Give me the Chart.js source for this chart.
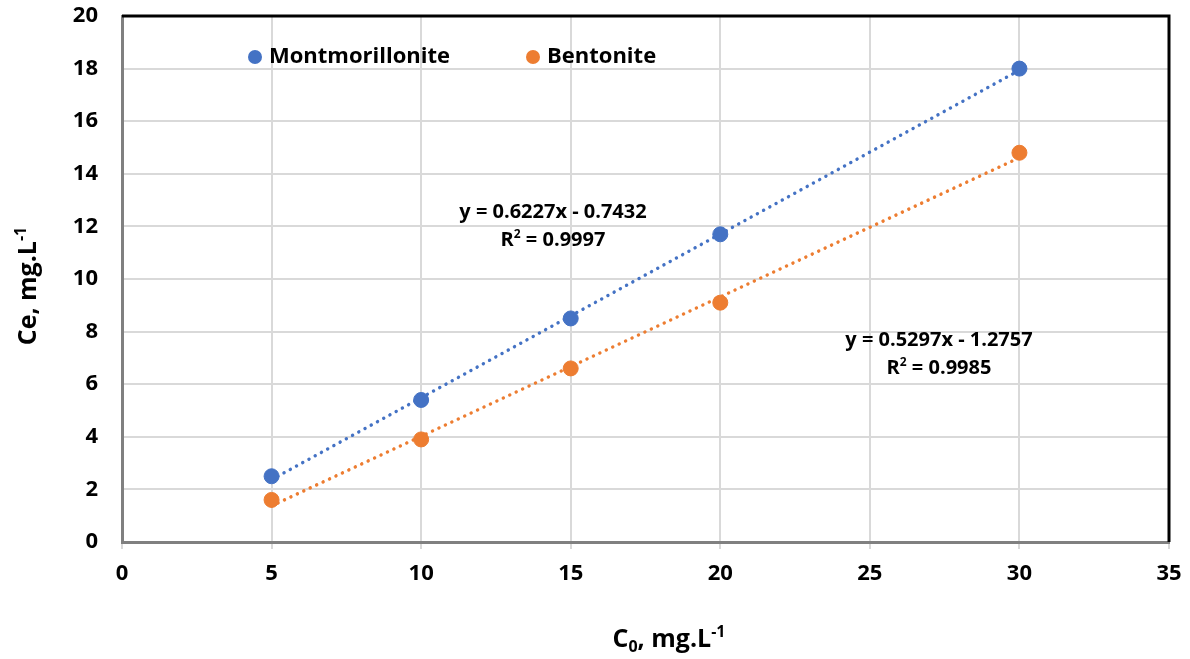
<!DOCTYPE html>
<html>
<head>
<meta charset="utf-8">
<script src="https://cdn.jsdelivr.net/npm/chart.js@4.4.0/dist/chart.umd.min.js"></script>
<style>
html,body{margin:0;padding:0;background:#fff;}
#wrap{width:1190px;height:659px;}
</style>
</head>
<body>
<div id="wrap"><canvas id="c" width="1190" height="659"></canvas></div>
<script>
const c0Values = [5, 10, 15, 20, 30];
const montmorilloniteCe = [2.5, 5.4, 8.5, 11.7, 18.0];
const bentoniteCe = [1.6, 3.9, 6.6, 9.1, 14.8];
const seriesNames = ['Montmorillonite', 'Bentonite'];
const trendSlopes = [0.6227, 0.5297];
const trendIntercepts = [-0.7432, -1.2757];
const trendR2 = [0.9997, 0.9985];
const xTicks = [0, 5, 10, 15, 20, 25, 30, 35];
const yTicks = [0, 2, 4, 6, 8, 10, 12, 14, 16, 18, 20];

const BLUE = '#4472C4', ORANGE = '#ED7D31';
const FONT = '"Open Sans", "Noto Sans", sans-serif';

function pts(ys){ return c0Values.map((x,i)=>({x:x,y:ys[i]})); }
function trend(k){
  const x0 = c0Values[0], x1 = c0Values[c0Values.length-1];
  return [{x:x0,y:trendSlopes[k]*x0+trendIntercepts[k]},{x:x1,y:trendSlopes[k]*x1+trendIntercepts[k]}];
}

function drawRich(ctx, parts, cx, cy, size, align){
  ctx.save();
  let w = 0;
  const fs = m => m==='n' ? size : Math.round(size*0.62);
  parts.forEach(p=>{ ctx.font = 'bold '+fs(p[1])+'px '+FONT; w += ctx.measureText(p[0]).width; });
  let x = align==='left' ? cx : cx - w/2;
  ctx.textBaseline = 'alphabetic';
  ctx.textAlign = 'left';
  ctx.fillStyle = '#000';
  const base = cy + size*0.36;
  parts.forEach(p=>{
    ctx.font = 'bold '+fs(p[1])+'px '+FONT;
    let y = base;
    if(p[1]==='sub') y = base + size*0.2;
    if(p[1]==='sup') y = base - size*0.4;
    ctx.fillText(p[0], x, y);
    x += ctx.measureText(p[0]).width;
  });
  ctx.restore();
}

const overlay = {
  id:'overlay',
  afterDraw(chart){
    const ctx = chart.ctx, a = chart.chartArea;
    ctx.save();
    ctx.strokeStyle = '#000'; ctx.lineWidth = 3;
    ctx.beginPath();
    ctx.moveTo(a.left, a.top); ctx.lineTo(a.right, a.top); ctx.lineTo(a.right, a.bottom);
    ctx.stroke();
    ctx.restore();
    // legend
    const colors = [BLUE, ORANGE];
    const lx = [255, 533];
    seriesNames.forEach((n,i)=>{
      ctx.save();
      ctx.fillStyle = colors[i];
      ctx.beginPath(); ctx.arc(lx[i], 57, 7, 0, Math.PI*2); ctx.fill();
      ctx.fillStyle = '#000';
      ctx.font = 'bold 22px '+FONT;
      ctx.textBaseline = 'middle';
      ctx.fillText(n, lx[i]+14, 57);
      ctx.restore();
    });
    // equations
    const eqPos = [[553,211],[939,339]];
    [0,1].forEach(k=>{
      const b = trendIntercepts[k];
      const s = 'y = '+trendSlopes[k].toFixed(4)+'x '+(b<0?'- ':'+ ')+Math.abs(b).toFixed(4);
      drawRich(ctx, [[s,'n']], eqPos[k][0], eqPos[k][1], 20);
      drawRich(ctx, [['R','n'],['2','sup'],[' = '+trendR2[k].toFixed(4),'n']], eqPos[k][0], eqPos[k][1]+28, 20);
    });
    // axis titles
    drawRich(ctx, [['C','n'],['0','sub'],[', mg.L','n'],['-1','sup']], 669, 638, 25);
    ctx.save();
    ctx.translate(27, 286);
    ctx.rotate(-Math.PI/2);
    drawRich(ctx, [['Ce, mg.L','n'],['-1','sup']], 0, 0, 25);
    ctx.restore();
  }
};

new Chart(document.getElementById('c'), {
  type:'scatter',
  data:{
    datasets:[
      {label:seriesNames[0], data:pts(montmorilloniteCe), backgroundColor:BLUE, borderColor:BLUE, pointRadius:7.5, pointHoverRadius:7.5, order:0},
      {label:seriesNames[1], data:pts(bentoniteCe), backgroundColor:ORANGE, borderColor:ORANGE, pointRadius:7.5, pointHoverRadius:7.5, order:0},
      {type:'line', label:'t1', data:trend(0), borderColor:BLUE, borderWidth:3.4, borderDash:[0.1,7], borderCapStyle:'round', pointRadius:0, fill:false, order:1},
      {type:'line', label:'t2', data:trend(1), borderColor:ORANGE, borderWidth:3.4, borderDash:[0.1,7], borderCapStyle:'round', pointRadius:0, fill:false, order:1}
    ]
  },
  options:{
    responsive:false, animation:false,
    layout:{padding:{top:16, right:21, left:0, bottom:0}},
    plugins:{legend:{display:false}, tooltip:{enabled:false}},
    scales:{
      x:{
        type:'linear', min:0, max:35,
        afterBuildTicks: s => { s.ticks = xTicks.map(v=>({value:v})); },
        afterFit: s => { s.height = 117; s.paddingLeft = 0; s.paddingRight = 0; },
        grid:{color:'#d9d9d9', lineWidth:2, tickLength:7, tickColor:'#d9d9d9'},
        border:{color:'#808080', width:3},
        ticks:{color:'#000', font:{family:FONT, size:22, weight:'bold'}, padding:12, maxRotation:0}
      },
      y:{
        type:'linear', min:0, max:20,
        afterBuildTicks: s => { s.ticks = yTicks.map(v=>({value:v})); },
        afterFit: s => { s.width = 122; s.paddingTop = 0; s.paddingBottom = 0; },
        grid:{color:'#d9d9d9', lineWidth:2, tickLength:0, drawTicks:false},
        border:{color:'#808080', width:3},
        ticks:{color:'#000', font:{family:FONT, size:22, weight:'bold'}, padding:24}
      }
    }
  },
  plugins:[overlay]
});
</script>
</body>
</html>
